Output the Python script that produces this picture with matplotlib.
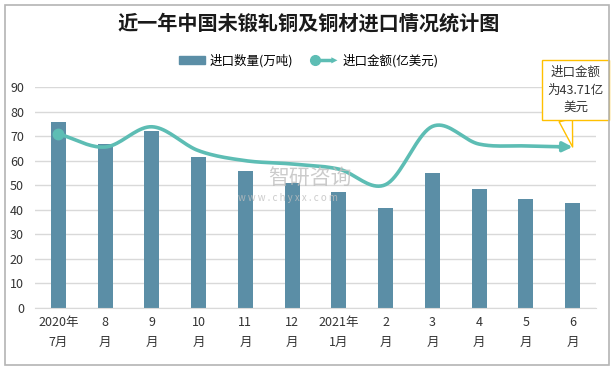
import numpy as np
import matplotlib
matplotlib.use("Agg")
import matplotlib.pyplot as plt
from matplotlib.lines import Line2D
from matplotlib.patches import Patch, Rectangle, FancyArrowPatch
from matplotlib.legend_handler import HandlerBase

plt.rcParams['font.family'] = ['Noto Sans CJK SC', 'DejaVu Sans']

# data
months = ['2020年\n7月', '8\n月', '9\n月', '10\n月', '11\n月', '12\n月',
          '2021年\n1月', '2\n月', '3\n月', '4\n月', '5\n月', '6\n月']
qty = [75.8, 66.8, 72.2, 61.5, 55.9, 50.9, 47.3, 40.9, 55.0, 48.6, 44.5, 42.8]   # 万吨
amount = [47.3, 43.7, 49.2, 42.7, 40.0, 39.1, 37.7, 33.5, 49.3, 44.5, 44.0, 43.71]  # 亿美元

bar_color = '#5b8ea6'
line_color = '#5dbdb4'


def smooth(xs, ys, n=20):
    # catmull-rom, roughly what a "smoothed line" option draws
    xs = np.asarray(xs, float)
    ys = np.asarray(ys, float)
    px = np.concatenate([[2 * xs[0] - xs[1]], xs, [2 * xs[-1] - xs[-2]]])
    py = np.concatenate([[2 * ys[0] - ys[1]], ys, [2 * ys[-1] - ys[-2]]])
    ox, oy = [], []
    for i in range(1, len(px) - 2):
        t = np.linspace(0, 1, n, endpoint=False)
        for p, o in ((px, ox), (py, oy)):
            p0, p1, p2, p3 = p[i - 1], p[i], p[i + 1], p[i + 2]
            o.extend(0.5 * (2 * p1 + (-p0 + p2) * t + (2 * p0 - 5 * p1 + 4 * p2 - p3) * t ** 2
                            + (-p0 + 3 * p1 - 3 * p2 + p3) * t ** 3))
    ox.append(xs[-1])
    oy.append(ys[-1])
    return np.array(ox), np.array(oy)


class ArrowLineHandler(HandlerBase):
    def create_artists(self, legend, orig_handle, xdescent, ydescent, width, height, fontsize, trans):
        y = height / 2 - ydescent
        x0 = -xdescent + 2
        x1 = width - xdescent
        ln = Line2D([x0, x1 - 6], [y, y], color=line_color, lw=2.5)
        dot = Line2D([x0], [y], marker='o', ms=7, color=line_color, lw=0)
        arr = FancyArrowPatch((x1 - 9, y), (x1 + 1, y), arrowstyle='-|>', mutation_scale=11,
                              color=line_color, lw=0)
        for a in (ln, dot, arr):
            a.set_transform(trans)
        return [ln, dot, arr]


fig = plt.figure(figsize=(6.14, 3.69), dpi=100)
fig.patches.append(Rectangle((5 / 614, 4 / 369), 604 / 614, 360 / 369, transform=fig.transFigure,
                             fill=False, edgecolor='#b4b4b4', lw=1.2))

ax = fig.add_axes([35 / 614, 1 - 308 / 369, 561 / 614, 221 / 369])
x = np.arange(len(months))
ax.bar(x, qty, width=0.32, color=bar_color, zorder=2)
ax.set_xlim(-0.5, len(months) - 0.5)
ax.set_ylim(0, 90)
ax.set_yticks(range(0, 91, 10))
ax.grid(axis='y', color='#d9d9d9', lw=1, zorder=0)
ax.set_axisbelow(True)
for s in ('left', 'right', 'top'):
    ax.spines[s].set_visible(False)
ax.spines['bottom'].set_color('#d9d9d9')
ax.tick_params(axis='both', length=0, labelsize=9, colors='#333333')
ax.tick_params(axis='y', pad=8)
ax.set_xticks(x)
ax.set_xticklabels(months, linespacing=1.65)
ax.tick_params(axis='x', pad=6)

ax2 = ax.twinx()
ax2.set_ylim(0, 60)
ax2.axis('off')
sx, sy = smooth(x, amount)
ax2.plot(sx[:-4], sy[:-4], color=line_color, lw=2.6, zorder=3, solid_capstyle='round')
ax2.annotate('', xy=(sx[-1], sy[-1]), xytext=(sx[-7], sy[-7]),
             arrowprops=dict(arrowstyle='-|>', color=line_color, lw=2.6, mutation_scale=14,
                             shrinkA=0, shrinkB=0))
ax2.plot(x[0], amount[0], 'o', color=line_color, ms=7.5, zorder=4)

ax2.annotate('进口金额\n为%.2f亿\n美元' % amount[-1], xy=(x[-1], amount[-1]),
             xytext=(575.5 / 614, 1 - 90 / 369), textcoords='figure fraction',
             ha='center', va='center', fontsize=9, color='#333333', linespacing=1.45,
             bbox=dict(boxstyle='square,pad=0.45', fc='white', ec='#ffc000', lw=1),
             arrowprops=dict(arrowstyle='wedge,tail_width=1.1,shrink_factor=0.5', fc='white',
                             ec='#ffc000', lw=1, relpos=(0.3, 0), shrinkA=0, shrinkB=0),
             zorder=6)

fig.text(0.503, 1 - 23 / 369, '近一年中国未锻轧铜及铜材进口情况统计图', ha='center', va='center',
         fontsize=14.5, fontweight='bold', color='#1a1a1a')

handles = [Patch(color=bar_color), Line2D([], [], color=line_color)]
fig.legend(handles, ['进口数量(万吨)', '进口金额(亿美元)'], loc='center',
           bbox_to_anchor=(0.503, 1 - 61 / 369), ncol=2, frameon=False, fontsize=9,
           handlelength=2.1, handleheight=0.6, columnspacing=1.6, handletextpad=0.3,
           handler_map={Line2D: ArrowLineHandler()})

# watermark
fig.text(268 / 614, 1 - 178 / 369, '智研咨询', fontsize=15, color='#bfbfbf', alpha=0.8,
         va='center', ha='left', zorder=5)
fig.text(238 / 614, 1 - 198 / 369, 'w w w . c h y x x . c o m', fontsize=7, color='#bfbfbf',
         alpha=0.8, va='center', ha='left', zorder=5)

fig.savefig('out.png', dpi=100)
